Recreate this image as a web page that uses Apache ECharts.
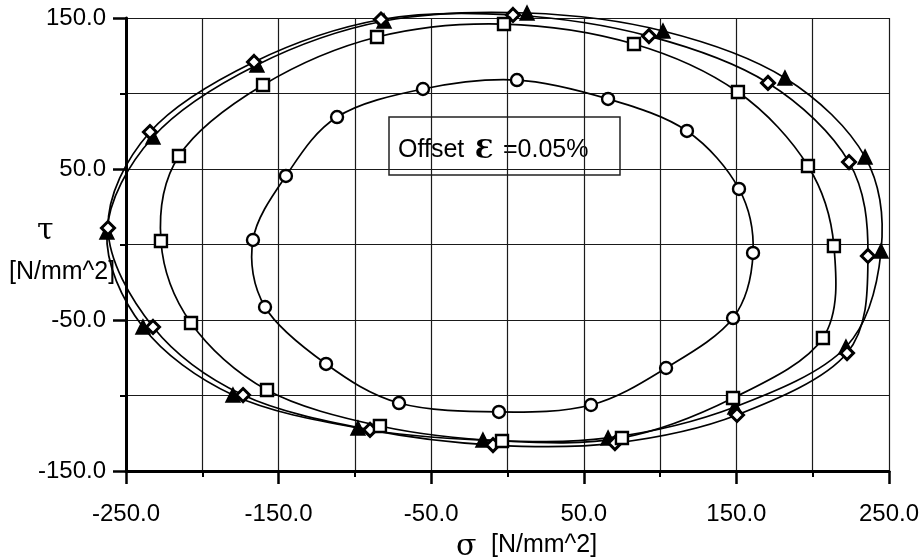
<!DOCTYPE html>
<html>
<head>
<meta charset="utf-8">
<script src="https://cdn.jsdelivr.net/npm/echarts@6/dist/echarts.min.js"></script>
<style>
  html, body { margin: 0; padding: 0; background: #fff; }
  #chart { width: 923px; height: 559px; }
</style>
</head>
<body>
<div id="chart"></div>
<script>
// Yield loci in the sigma-tau plane (offset strain 0.05 %), four load paths.
const sigmaTri = [-262.5, -232.3, -164.2, -80.9, 12.8, 101.9, 181.8, 234.3, 244.8, 221.8, 149.0, 65.9, -16.1, -98.0, -179.9, -238.9];
const tauTri   = [8.3, 71.2, 118.9, 148.0, 153.3, 141.4, 110.3, 58.0, -4.3, -67.9, -107.6, -128.1, -129.5, -121.5, -99.7, -54.6];

const sigmaDia = [-261.8, -234.3, -166.1, -82.9, 3.6, 92.7, 170.7, 223.8, 236.2, 222.5, 150.4, 70.4, -9.5, -90.1, -173.3, -232.3];
const tauDia   = [10.9, 74.5, 120.9, 149.0, 152.0, 138.0, 107.0, 54.6, -7.6, -71.9, -112.9, -131.5, -132.8, -122.8, -99.7, -54.6];

const sigmaSq = [-227.1, -215.3, -160.2, -85.5, -2.3, 82.9, 151.0, 196.9, 213.9, 206.7, 147.8, 75.0, -3.6, -83.6, -157.6, -207.4];
const tauSq   = [2.3, 58.6, 105.6, 137.4, 146.0, 132.8, 101.0, 52.0, -1.0, -61.9, -101.7, -128.1, -130.1, -120.2, -96.4, -52.0];

const sigmaCirc = [-166.8, -145.2, -111.7, -55.4, 6.2, 65.9, 117.6, 151.7, 160.9, 147.8, 103.9, 54.7, -5.6, -71.1, -118.9, -158.9];
const tauCirc   = [3.0, 45.4, 84.4, 103.0, 108.9, 96.4, 75.2, 36.8, -5.6, -48.7, -81.8, -106.3, -110.9, -105.0, -79.1, -41.4];

const xTickLabels = ['-250.0', '-150.0', '-50.0', '50.0', '150.0', '250.0'];
const yTickLabels = ['-150.0', '-50.0', '50.0', '150.0'];

const FONT = '"Liberation Sans", Arial, Helvetica, sans-serif';
const gridLine = { color: '#1a1a1a', width: 1.2 };

// Closed Catmull-Rom spline through pixel points, as SVG path data.
function closedSpline(pts) {
  const n = pts.length;
  let d = 'M' + pts[0][0] + ',' + pts[0][1];
  for (let i = 0; i < n; i++) {
    const p0 = pts[(i - 1 + n) % n], p1 = pts[i], p2 = pts[(i + 1) % n], p3 = pts[(i + 2) % n];
    const c1x = p1[0] + (p2[0] - p0[0]) / 6, c1y = p1[1] + (p2[1] - p0[1]) / 6;
    const c2x = p2[0] - (p3[0] - p1[0]) / 6, c2y = p2[1] - (p3[1] - p1[1]) / 6;
    d += ' C' + c1x + ',' + c1y + ' ' + c2x + ',' + c2y + ' ' + p2[0] + ',' + p2[1];
  }
  return d + ' Z';
}

// Smooth closed curve through one locus, positioned by the cartesian axes.
function curve(name, xs, ys) {
  return {
    name: name + ' curve',
    type: 'custom',
    coordinateSystem: 'cartesian2d',
    data: [[0, 0]],
    clip: false,
    silent: true,
    z: 4,
    renderItem: function (params, api) {
      const pts = xs.map((x, i) => api.coord([x, ys[i]]));
      return {
        type: 'path',
        shape: { pathData: closedSpline(pts) },
        style: { fill: 'none', stroke: '#000', lineWidth: 1.7 }
      };
    }
  };
}

// Measured points of one locus.
function marks(name, xs, ys, symbol, size, filled, border) {
  return {
    name: name,
    type: 'scatter',
    data: xs.map((x, i) => [x, ys[i]]),
    clip: false,
    symbol: symbol,
    symbolSize: size,
    itemStyle: {
      color: filled ? '#000' : '#fff',
      borderColor: '#000',
      borderWidth: border,
      opacity: 1
    },
    emphasis: { disabled: true },
    z: 6
  };
}

function labelFrom(list) {
  return function (v) {
    const hit = list.find(s => Math.abs(parseFloat(s) - v) < 1e-6);
    return hit === undefined ? '' : hit;
  };
}

const chart = echarts.init(document.getElementById('chart'), null, { renderer: 'canvas' });

chart.setOption({
  animation: false,
  backgroundColor: '#fff',
  grid: { left: 126, right: 34, top: 18, bottom: 88, containLabel: false },
  xAxis: {
    type: 'value',
    min: -250, max: 250, interval: 100,
    axisLine: { show: true, onZero: false, lineStyle: { color: '#000', width: 3 } },
    axisTick: { show: true, length: 13, lineStyle: { color: '#000', width: 2.5 } },
    minorTick: { show: true, splitNumber: 2, length: 6, lineStyle: { color: '#000', width: 2 } },
    splitLine: { show: true, lineStyle: gridLine },
    minorSplitLine: { show: true, lineStyle: gridLine },
    axisLabel: { formatter: labelFrom(xTickLabels), fontSize: 24, color: '#000', fontFamily: FONT, margin: 31 }
  },
  yAxis: {
    type: 'value',
    min: -150, max: 150, interval: 100,
    axisLine: { show: true, onZero: false, lineStyle: { color: '#000', width: 3 } },
    axisTick: { show: true, length: 13, lineStyle: { color: '#000', width: 2.5 } },
    minorTick: { show: true, splitNumber: 2, length: 6, lineStyle: { color: '#000', width: 2 } },
    splitLine: { show: true, lineStyle: gridLine },
    minorSplitLine: { show: true, lineStyle: gridLine },
    axisLabel: { formatter: labelFrom(yTickLabels), fontSize: 24, color: '#000', fontFamily: FONT, margin: 20 }
  },
  series: [
    curve('triangle', sigmaTri, tauTri),
    curve('diamond', sigmaDia, tauDia),
    curve('square', sigmaSq, tauSq),
    curve('circle', sigmaCirc, tauCirc),
    marks('triangle', sigmaTri, tauTri, 'triangle', 14, true, 1.5),
    marks('diamond', sigmaDia, tauDia, 'diamond', 13, false, 3),
    marks('square', sigmaSq, tauSq, 'rect', 12, false, 2.4),
    marks('circle', sigmaCirc, tauCirc, 'circle', 12, false, 2.4)
  ],
  graphic: [
    // axis titles
    { type: 'text', left: 37, top: 216, style: { text: 'τ', font: '30px "DejaVu Serif", serif', fill: '#000' } },
    { type: 'text', left: 9, top: 260, style: { text: '[N/mm^2]', font: '25px ' + FONT, fill: '#000' } },
    { type: 'text', left: 456, top: 532, style: { text: 'σ', font: '30px "DejaVu Serif", serif', fill: '#000' } },
    { type: 'text', left: 491, top: 533, style: { text: '[N/mm^2]', font: '25px ' + FONT, fill: '#000' } },
    // annotation box
    {
      type: 'group', z: 20,
      children: [
        { type: 'rect', shape: { x: 389, y: 117, width: 231, height: 58 },
          style: { fill: '#fff', stroke: '#222', lineWidth: 1.5 } },
        { type: 'text', x: 398, y: 150, style: { text: 'Offset', font: '25px ' + FONT, fill: '#000', verticalAlign: 'middle' } },
        { type: 'text', x: 475, y: 151, style: { text: 'Ɛ', font: 'bold 26px "DejaVu Serif", serif', fill: '#000', verticalAlign: 'middle' } },
        { type: 'text', x: 503, y: 150, style: { text: '=0.05%', font: '25px ' + FONT, fill: '#000', verticalAlign: 'middle' } }
      ]
    }
  ]
});
</script>
</body>
</html>
